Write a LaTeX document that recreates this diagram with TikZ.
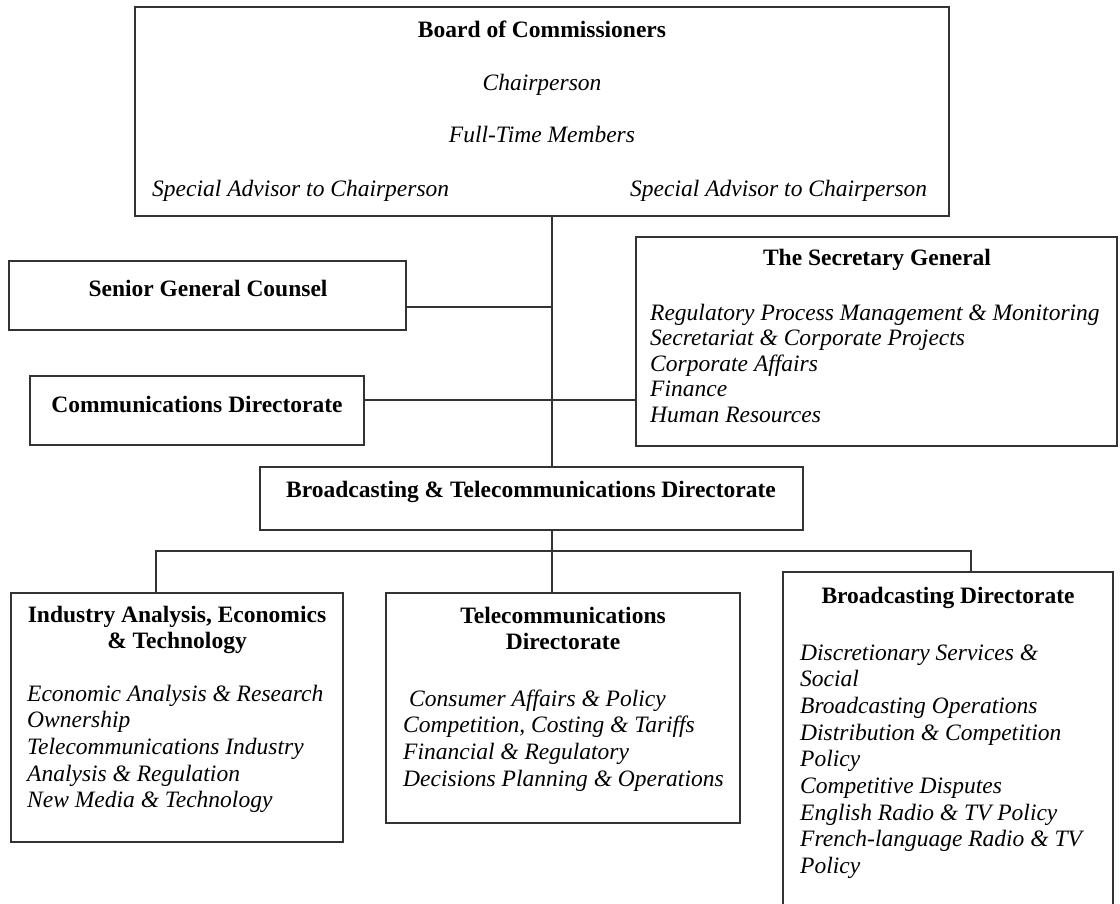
\documentclass[tikz,border=0pt]{standalone}
\usepackage{fontspec}
\setmainfont{Liberation Serif}
\usepackage{tikz}
\tikzstyle{box}=[draw=black!80,line width=1.8pt,rectangle,inner sep=0pt]
\tikzstyle{link}=[draw=black!80,line width=1.8pt]
\tikzstyle{head}=[font=\fontsize{23.5}{26.5}\selectfont\bfseries,inner sep=0pt,anchor=base,align=center]
\tikzstyle{sub}=[font=\fontsize{23.5}{26.7}\selectfont\itshape,inner sep=0pt,anchor=base]
\tikzstyle{item}=[font=\fontsize{23.5}{26.7}\selectfont\itshape,inner sep=0pt,anchor=base west,align=left]

\begin{document}
\begin{tikzpicture}[x=1pt,y=-1pt]
\useasboundingbox (0,0) rectangle (1120,903);
% boxes
\node[box,minimum width=814pt,minimum height=209pt] (board) at (542,111.5) {};
\node[box,minimum width=397pt,minimum height=69pt] (counsel) at (207.5,295.5) {};
\node[box,minimum width=334pt,minimum height=69pt] (comms) at (197,410.5) {};
\node[box,minimum width=481pt,minimum height=209pt] (secgen) at (876.5,341.5) {};
\node[box,minimum width=543pt,minimum height=63pt] (btdir) at (531.5,498.5) {};
\node[box,minimum width=332pt,minimum height=249pt] (industry) at (177,717.5) {};
\node[box,minimum width=354pt,minimum height=230pt] (telecom) at (563,708) {};
\node[box,minimum width=330pt,minimum height=343pt] (bcast) at (948,743.5) {};
% board text
\node[head] (board-t) at (542,37) {Board of Commissioners};
\node[sub] (chair) at (542,90) {Chairperson};
\node[sub] (members) at (542,142) {Full-Time Members};
\node[item] (adv-l) at (152,196) {Special Advisor to Chairperson};
\node[item] (adv-r) at (630,196) {Special Advisor to Chairperson};
% staff (multi-line nodes sit on the baseline of their last line)
\node[head] (counsel-t) at (208,296) {Senior General Counsel};
\node[head] (comms-t) at (197,412) {Communications Directorate};
\node[head] (secgen-t) at (877,265) {The Secretary General};
\node[item,font=\fontsize{23.5}{25.5}\selectfont\itshape] (secgen-l) at (650,422) {Regulatory Process Management \& Monitoring\\Secretariat \& Corporate Projects\\Corporate Affairs\\Finance\\Human Resources};
\node[head] (btdir-t) at (531,497) {Broadcasting \& Telecommunications Directorate};
% directorates
\node[head] (industry-t) at (177,648.5) {Industry Analysis, Economics\\\& Technology};
\node[item] (industry-l) at (27,807.8) {Economic Analysis \& Research\\Ownership\\Telecommunications Industry\\Analysis \& Regulation\\New Media \& Technology};
\node[head] (telecom-t) at (563,649.5) {Telecommunications\\Directorate};
\node[item] (telecom-l) at (403,786.1) {\hspace*{6pt}Consumer Affairs \& Policy\\Competition, Costing \& Tariffs\\Financial \& Regulatory\\Decisions Planning \& Operations};
\node[head] (bcast-t) at (948,603) {Broadcasting Directorate};
\node[item] (bcast-l) at (800,873.6) {Discretionary Services \&\\Social\\Broadcasting Operations\\Distribution \& Competition\\Policy\\Competitive Disputes\\English Radio \& TV Policy\\French-language Radio \& TV\\Policy};
% lines
\coordinate (spine) at (552,0);
\coordinate (j1) at (552,307);
\coordinate (j2) at (552,400);
\coordinate (busl) at (156,551);
\coordinate (busr) at (971,551);
\draw[link] (board.south -| spine) -- (btdir.north -| spine);
\draw[link] (counsel.east |- j1) -- (j1);
\draw[link] (comms.east |- j2) -- (secgen.west |- j2);
\draw[link] (btdir.south -| spine) -- (telecom.north -| spine);
\draw[link] (industry.north -| busl) -- (busl) -- (busr) -- (bcast.north -| busr);
\end{tikzpicture}
\end{document}
